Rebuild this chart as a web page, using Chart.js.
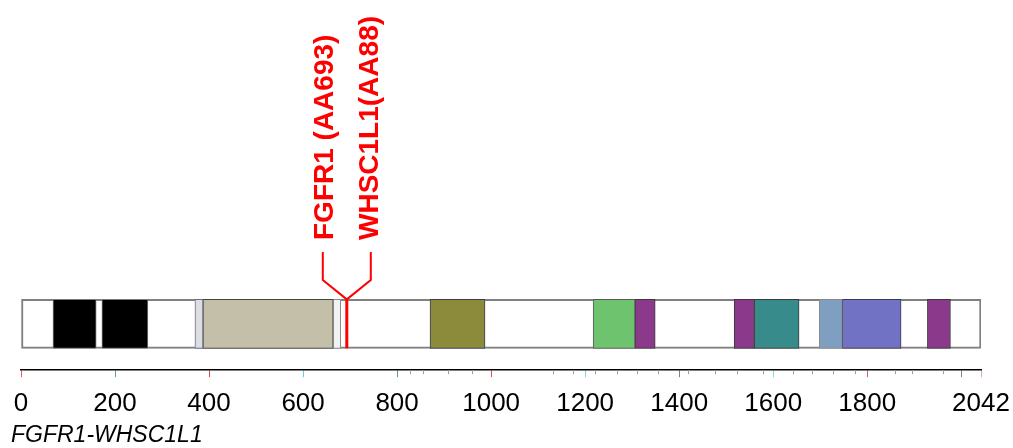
<!DOCTYPE html>
<html>
<head>
<meta charset="utf-8">
<script src="https://cdn.jsdelivr.net/npm/chart.js@4.4.1/dist/chart.umd.min.js"></script>
<style>
  html, body { margin: 0; padding: 0; background: #ffffff; }
  #wrap { width: 1013px; height: 448px; position: relative; }
</style>
</head>
<body>
<div id="wrap"><canvas id="c"></canvas></div>
<script>
// Fusion protein layout (amino-acid coordinates)
const fusionName = 'FGFR1-WHSC1L1';
const proteinLength = 2042;
const breakpoint = 693;
const breakLabels = ['FGFR1 (AA693)', 'WHSC1L1(AA88)'];

// Domains along the fusion protein
const domainStart = [68, 172, 370, 387, 664, 870, 1217, 1306, 1517, 1560, 1698, 1747, 1928];
const domainEnd   = [160, 270, 387, 664, 680, 987, 1306, 1349, 1560, 1655, 1747, 1872, 1977];
const domainColor = ['#000000', '#000000', '#dedede', '#c4bfa9', '#f2f2f2', '#8b8b3b', '#6ec46e',
                     '#8b3a8b', '#8b3a8b', '#378b8b', '#7f9fc1', '#7272c4', '#8b3a8b'];
const domainBorder = ['#7a7a7a', '#7a7a7a', '#6a6a9a', '#3e4a3a', '#8a8a8a', '#3a3a5a', '#5a5a5a',
                      '#3a3a3a', '#3a3a3a', '#3a3a3a', '#8a8a8a', '#3a3a4a', '#3a3a3a'];

// Axis ticks
const tickValues = [0, 200, 400, 600, 800, 1000, 1200, 1400, 1600, 1800, 2000, 2042];
const tickLabels = ['0', '200', '400', '600', '800', '1000', '1200', '1400', '1600', '1800', '', '2042'];
const tickColors = ['#e06060', '#6a9a9a', '#e04848', '#60d0e0', '#6a9090', '#e05050',
                    '#70d8e0', '#808080', '#80d8e0', '#d06060', '#708888', '#e0b0b0'];
const minorTicks = [828, 855, 908, 960, 1132, 1174, 1221, 1268, 1311, 1355, 1419, 1477, 1523,
                    1579, 1643, 1683, 1728, 1774, 1860, 1896, 1962];

const datasets = [{
  label: 'protein',
  data: [[0, proteinLength]],
  backgroundColor: '#ffffff',
  borderColor: '#808080',
  borderWidth: 2,
  borderSkipped: false,
  grouped: false,
  order: 1
}].concat(domainStart.map((s, i) => ({
  label: 'domain ' + (i + 1),
  data: [[s, domainEnd[i]]],
  backgroundColor: domainColor[i],
  borderColor: domainBorder[i],
  borderWidth: 1,
  borderSkipped: false,
  grouped: false,
  order: 0
})));

const annotate = {
  id: 'annotate',
  afterDatasetsDraw(chart) {
    const ctx = chart.ctx;
    const xs = chart.scales.x;
    const area = chart.chartArea;
    const meta = chart.getDatasetMeta(0).data[0];
    const barTop = meta.y - meta.height / 2;
    const barBottom = meta.y + meta.height / 2;
    const bx = xs.getPixelForValue(breakpoint);
    ctx.save();

    // minor ruler ticks
    ctx.strokeStyle = '#a0a0a0';
    ctx.lineWidth = 1;
    minorTicks.forEach(v => {
      const x = Math.round(xs.getPixelForValue(v)) + 0.5;
      ctx.beginPath();
      ctx.moveTo(x, area.bottom);
      ctx.lineTo(x, area.bottom + 4);
      ctx.stroke();
    });

    // breakpoint line through the protein bar
    ctx.strokeStyle = '#ff0000';
    ctx.lineWidth = 3;
    ctx.beginPath();
    ctx.moveTo(bx, barTop);
    ctx.lineTo(bx, barBottom);
    ctx.stroke();

    // forked leader lines
    ctx.lineWidth = 2;
    ctx.beginPath();
    ctx.moveTo(bx - 24, 252);
    ctx.lineTo(bx - 24, 280);
    ctx.lineTo(bx, barTop);
    ctx.lineTo(bx + 24, 280);
    ctx.lineTo(bx + 24, 252);
    ctx.stroke();

    // partner labels
    ctx.fillStyle = '#ff0000';
    ctx.font = 'bold 28px "Liberation Sans", Arial, sans-serif';
    ctx.textAlign = 'left';
    ctx.textBaseline = 'alphabetic';
    [[bx - 14, breakLabels[0]], [bx + 31, breakLabels[1]]].forEach(([x, t]) => {
      ctx.save();
      ctx.translate(x, 240);
      ctx.rotate(-Math.PI / 2);
      ctx.fillText(t, 0, 0);
      ctx.restore();
    });

    // fusion name
    ctx.fillStyle = '#000000';
    ctx.font = 'italic 23px "Liberation Sans", Arial, sans-serif';
    ctx.fillText(fusionName, 11, 442);
    ctx.restore();
  }
};

new Chart(document.getElementById('c'), {
  type: 'bar',
  data: { labels: [fusionName], datasets },
  options: {
    indexAxis: 'y',
    responsive: true,
    maintainAspectRatio: false,
    animation: false,
    events: [],
    barThickness: 49,
    layout: { padding: { left: 21, right: 32, top: 277.5, bottom: 18 } },
    plugins: { legend: { display: false }, tooltip: { enabled: false } },
    scales: {
      y: { display: false, offset: true },
      x: {
        type: 'linear',
        min: 0,
        max: proteinLength,
        afterBuildTicks: axis => { axis.ticks = tickValues.map(v => ({ value: v })); },
        border: { display: true, color: '#000000', width: 1.5 },
        grid: {
          drawOnChartArea: false,
          drawTicks: true,
          tickLength: 7,
          lineWidth: 1,
          color: c => tickColors[c.index] || '#808080'
        },
        ticks: {
          autoSkip: false,
          maxRotation: 0,
          padding: 3,
          color: '#000000',
          font: { family: '"Liberation Sans", Arial, sans-serif', size: 26, lineHeight: 1.8 },
          callback: (v, i) => tickLabels[i]
        }
      }
    }
  },
  plugins: [annotate]
});
</script>
</body>
</html>
